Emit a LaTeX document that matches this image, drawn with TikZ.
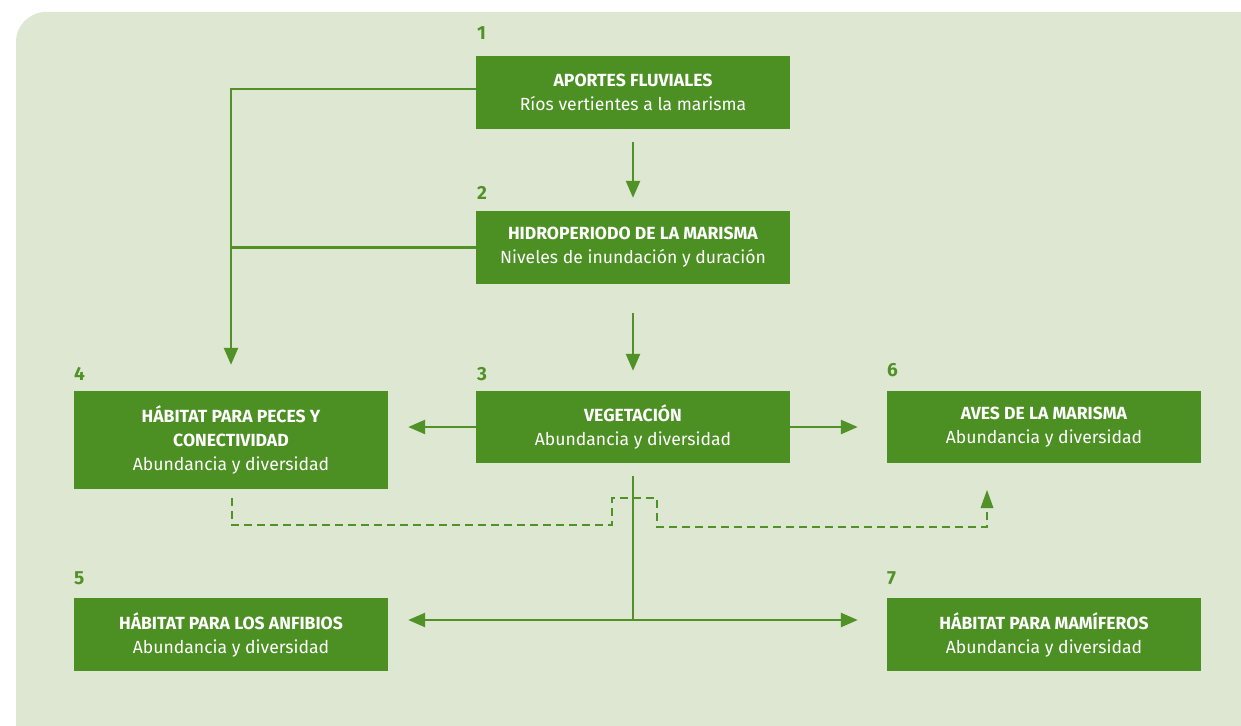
\documentclass[tikz,border=0pt]{standalone}
\usepackage{fontspec}
\setmainfont{Fira Sans}
\usetikzlibrary{arrows.meta}
\definecolor{bgc}{RGB}{222,231,209}
\definecolor{boxc}{RGB}{76,143,35}
\definecolor{linec}{RGB}{80,146,40}
\tikzset{
  box/.style={fill=boxc, text=white, minimum width=314pt, align=center, inner sep=0pt,
    font=\fontsize{17.6}{24}\selectfont},
  num/.style={text=linec, font=\fontsize{19}{19}\selectfont\bfseries, anchor=west, inner sep=0pt},
  conn/.style={draw=linec, line width=2.5pt, -{Triangle[length=17pt,width=14pt]}},
  plain/.style={draw=linec, line width=2.5pt},
  dashconn/.style={draw=linec, line width=2.5pt, dash pattern=on 8pt off 5pt}
}
\begin{document}
\begin{tikzpicture}[x=1pt,y=-1pt]
\useasboundingbox (0,0) rectangle (1241,725);
\begin{scope}
\clip (0,0) rectangle (1241,725);
\fill[bgc, rounded corners=30pt] (16,12) rectangle (1290,780);
\end{scope}

\node[box, minimum height=73pt] (b1) at (633,92.5) {\textbf{APORTES FLUVIALES}\\Ríos vertientes a la marisma};
\node[box, minimum height=73pt] (b2) at (633,247.5) {\textbf{HIDROPERIODO DE LA MARISMA}\\Niveles de inundación y duración};
\node[box, minimum height=72pt] (b3) at (633,427) {\textbf{VEGETACIÓN}\\Abundancia y diversidad};
\node[box, minimum height=98pt] (b4) at (231,440) {\textbf{HÁBITAT PARA PECES Y}\\\textbf{CONECTIVIDAD}\\Abundancia y diversidad};
\node[box, minimum height=72pt] (b6) at (1044,427) {\textbf{AVES DE LA MARISMA}\\Abundancia y diversidad};
\node[box, minimum height=73pt] (b5) at (231,634.5) {\textbf{HÁBITAT PARA LOS ANFIBIOS}\\Abundancia y diversidad};
\node[box, minimum height=73pt] (b7) at (1044,634.5) {\textbf{HÁBITAT PARA MAMÍFEROS}\\Abundancia y diversidad};

\node[num] (n1) at (477,33) {1};
\node[num] (n2) at (477,193) {2};
\node[num] (n3) at (477,374) {3};
\node[num] (n4) at (74,374) {4};
\node[num] (n6) at (887,370) {6};
\node[num] (n5) at (74,578) {5};
\node[num] (n7) at (887,578) {7};

% vertical chain
\draw[conn, shorten <=13pt, shorten >=13pt] (b1.south) -- (b2.north);
\draw[conn, shorten <=29pt, shorten >=20pt] (b2.south) -- (b3.north);

% left feed line
\coordinate (l1) at ([yshift=3.5pt]b1.west);
\coordinate (l2) at (b2.west);
\draw[conn, shorten >=26pt] (l1) -| (b4.north);
\draw[plain] (l2) -- (l2 -| b4.north);

% sideways from vegetation
\draw[conn, shorten >=20pt] (b3.west) -- (b3.west -| b4.east);
\draw[conn, shorten >=29pt] (b3.east) -- (b6.west);

% down to 5 and 7
\coordinate (j) at (633,620);
\draw[plain, shorten <=13pt] (b3.south) -- (j);
\draw[conn, shorten >=20pt] (j) -- (j -| b5.east);
\draw[conn, shorten >=29pt] (j) -- (j -| b7.west);

% dashed feedback
\coordinate (d0) at (232,498);
\coordinate (d1) at (232,525);
\coordinate (d2) at (612,525);
\coordinate (d3) at (612,498);
\coordinate (d4) at (657,498);
\coordinate (d5) at (657,527);
\coordinate (d6) at (987,527);
\coordinate (d7) at (987,490);
\draw[dashconn] (d0) -- (d1) -- (d2) -- (d3) -- (d4) -- (d5) -- (d6) -- (987,508);
\fill[linec] (d7) -- (980.5,508) -- (993.5,508) -- cycle;
\end{tikzpicture}
\end{document}
